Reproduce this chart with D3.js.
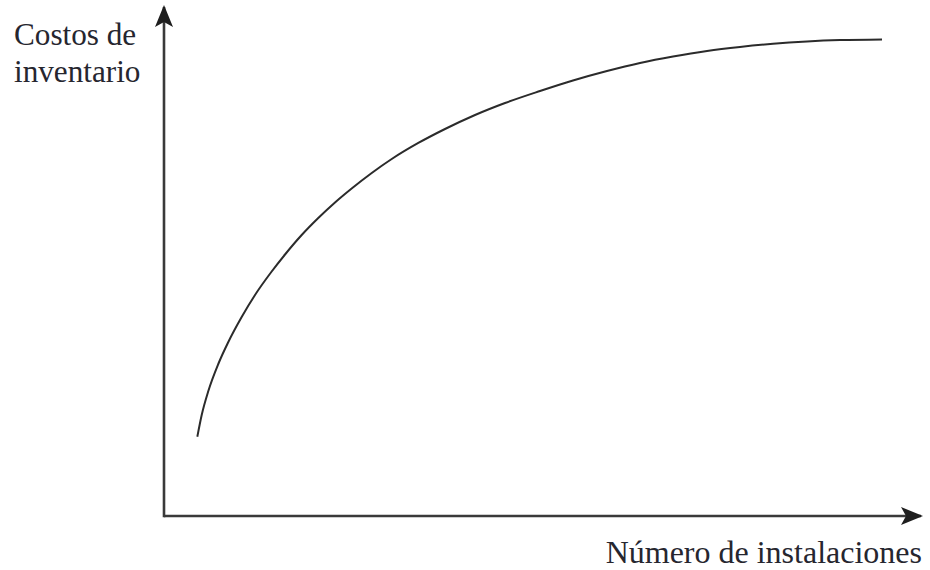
<!DOCTYPE html>
<html>
<head>
<meta charset="utf-8">
<script src="https://cdn.jsdelivr.net/npm/d3@7"></script>
<style>
  html, body { margin: 0; padding: 0; background: #fff; }
  svg { display: block; }
  text { font-family: "Liberation Serif", "DejaVu Serif", serif; fill: #26262f; }
</style>
</head>
<body>
<svg id="chart" width="930" height="570"></svg>
<script>
// Number of facilities (relative units 0-100)
const facilities = [4.42, 5.00, 5.88, 7.20, 8.53, 10.30, 12.07, 14.28, 16.05, 18.26, 20.46, 22.68, 24.89, 27.55, 30.20, 33.73, 37.27, 41.25, 45.23, 49.87, 54.24, 58.75, 63.13, 67.51, 72.02, 76.39, 80.77, 85.28, 89.66, 95.23];
// Inventory costs (relative units 0-100)
const inventoryCosts = [15.67, 19.96, 24.70, 30.04, 34.39, 39.33, 43.68, 48.32, 51.68, 55.53, 58.89, 61.96, 64.72, 67.79, 70.55, 73.72, 76.48, 79.25, 81.62, 83.99, 86.07, 87.94, 89.53, 90.81, 91.90, 92.69, 93.32, 93.77, 94.05, 94.19];
const yLabelLines = ["Costos de", "inventario"];
const xLabel = "Número de instalaciones";

const svg = d3.select("#chart");
const x = d3.scaleLinear().domain([0, 100]).range([164, 918]);
const y = d3.scaleLinear().domain([0, 100]).range([516, 10]);

// arrowhead marker
const defs = svg.append("defs");
defs.append("marker")
  .attr("id", "arrow")
  .attr("viewBox", "0 0 22 18")
  .attr("refX", 20).attr("refY", 9)
  .attr("markerWidth", 22).attr("markerHeight", 18)
  .attr("markerUnits", "userSpaceOnUse")
  .attr("orient", "auto")
  .append("path")
  .attr("d", "M0,0 L22,9 L0,18 L5,9 Z")
  .attr("fill", "#1e1e1e");

// axes
svg.append("line")
  .attr("x1", x(0)).attr("y1", y(0))
  .attr("x2", x(100) + 3).attr("y2", y(0))
  .attr("stroke", "#3a3a3a").attr("stroke-width", 2.6)
  .attr("marker-end", "url(#arrow)");
svg.append("line")
  .attr("x1", x(0)).attr("y1", y(0) + 1.3)
  .attr("x2", x(0)).attr("y2", y(100) - 3)
  .attr("stroke", "#3a3a3a").attr("stroke-width", 2.6)
  .attr("marker-end", "url(#arrow)");

// curve
const pts = facilities.map((f, i) => [f, inventoryCosts[i]]);
svg.append("path")
  .datum(pts)
  .attr("fill", "none")
  .attr("stroke", "#2b2b2b")
  .attr("stroke-width", 2)
  .attr("d", d3.line().x(d => x(d[0])).y(d => y(d[1])).curve(d3.curveMonotoneX));

// labels
svg.append("text")
  .attr("x", 14).attr("y", 45)
  .attr("font-size", 31.2)
  .selectAll("tspan").data(yLabelLines).join("tspan")
  .attr("x", 14)
  .attr("dy", (d, i) => i === 0 ? 0 : 37)
  .text(d => d);

svg.append("text")
  .attr("x", 922).attr("y", 563)
  .attr("text-anchor", "end")
  .attr("font-size", 32)
  .text(xLabel);
</script>
</body>
</html>
